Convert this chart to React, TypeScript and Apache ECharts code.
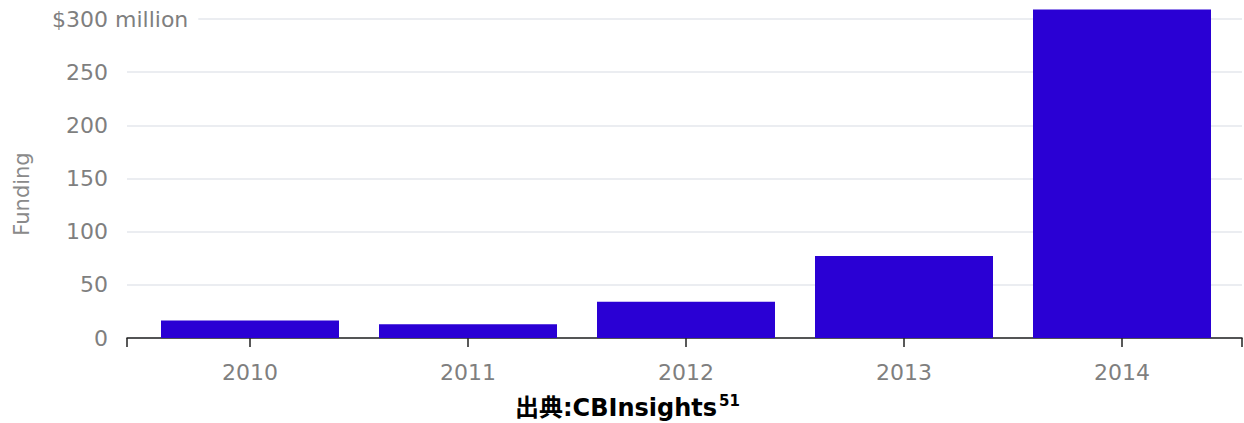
import React, { useEffect, useRef } from "react";
import * as echarts from "echarts";

const categories = ["2010", "2011", "2012", "2013", "2014"];
const funding = [16.5, 13, 34, 77, 309];
const yTicks = [0, 50, 100, 150, 200, 250, 300];
const yTopPrefix = "$";
const yTopSuffix = "million";
const yAxisTitle = "Funding";
const sourceText = "出典:CBInsights";
const sourceNote = "51";

export default function App() {
  const ref = useRef<HTMLDivElement>(null);
  useEffect(() => {
    if (!ref.current) return;
    const chart = echarts.init(ref.current, null, { renderer: "svg" });
    const yMax = yTicks[yTicks.length - 1];
    const labelFont = "DejaVu Sans";
    chart.setOption({
      animation: false,
      backgroundColor: "#ffffff",
      title: {
        left: 510,
        top: 388,
        text: `{a|${sourceText}}{b|${sourceNote}}`,
        textStyle: {
          rich: {
            a: {
              fontFamily: "DejaVu Sans, 'Noto Sans CJK JP'",
              fontWeight: "bold",
              fontSize: 24,
              color: "#000",
              lineHeight: 30,
            },
            b: {
              fontFamily: "DejaVu Sans",
              fontWeight: "bold",
              fontSize: 15,
              color: "#000",
              lineHeight: 30,
              verticalAlign: "top",
              padding: [0, 0, 18, 2],
            },
          },
        },
      },
      grid: [
        { left: 127, right: 2, top: 19, height: 319, outerBoundsMode: "none", containLabel: false },
        { left: 141, right: 13, top: 19, height: 319, outerBoundsMode: "none", containLabel: false },
      ],
      xAxis: [
        {
          type: "value",
          gridIndex: 0,
          min: 0,
          max: 1,
          interval: 1,
          axisLine: { show: true, lineStyle: { color: "#222", width: 1.5 } },
          axisTick: { show: true, length: 9, lineStyle: { color: "#222", width: 1.5 } },
          axisLabel: { show: false },
          splitLine: { show: false },
        },
        {
          type: "category",
          gridIndex: 1,
          data: categories,
          axisLine: { show: false },
          axisTick: {
            show: true,
            alignWithLabel: true,
            length: 9,
            lineStyle: { color: "#222", width: 1.5 },
          },
          axisLabel: {
            margin: 23,
            color: "#7f7f7f",
            fontSize: 22,
            fontFamily: labelFont,
          },
        },
      ],
      yAxis: [
        {
          type: "value",
          gridIndex: 0,
          min: 0,
          max: yMax,
          interval: 50,
          axisLine: { show: false },
          axisTick: { show: false },
          axisLabel: {
            margin: 19,
            color: "#7f7f7f",
            fontSize: 22,
            fontFamily: labelFont,
            formatter: (v: number) => (v === yMax ? yTopPrefix + v : String(v)),
          },
          splitLine: { show: true, lineStyle: { color: "#e4e7ec", width: 1.5 } },
        },
        {
          type: "value",
          gridIndex: 1,
          min: 0,
          max: yMax,
          show: false,
        },
      ],
      graphic: [
        {
          type: "text",
          x: 22,
          y: 194,
          rotation: Math.PI / 2,
          style: {
            text: yAxisTitle,
            fill: "#8a8a8a",
            fontSize: 21,
            fontFamily: labelFont,
            align: "center",
            verticalAlign: "middle",
          },
        },
        {
          type: "text",
          x: 115,
          y: 19,
          z: 100,
          style: {
            text: yTopSuffix,
            fill: "#7f7f7f",
            fontSize: 22,
            fontFamily: labelFont,
            align: "left",
            verticalAlign: "middle",
            backgroundColor: "#ffffff",
            padding: [3, 10, 3, 0],
          },
        },
      ],
      series: [
        {
          type: "bar",
          xAxisIndex: 1,
          yAxisIndex: 1,
          data: funding,
          barWidth: 178,
          clip: false,
          itemStyle: { color: "#2a00d4" },
          z: 1,
        },
      ],
    });
    return () => chart.dispose();
  }, []);
  return (
    <div
      ref={ref}
      style={{ position: "absolute", left: 0, top: 0, width: 1244, height: 423 }}
    />
  );
}
